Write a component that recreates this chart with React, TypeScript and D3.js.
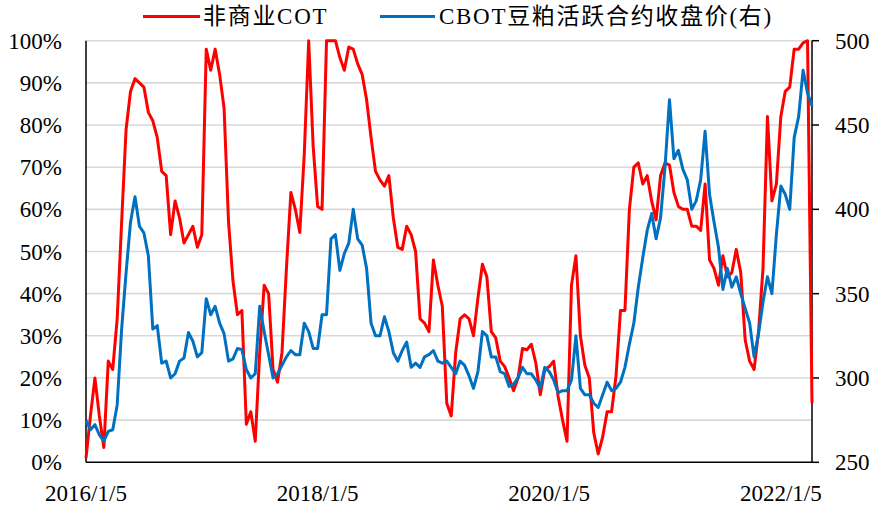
import React from "react";
import * as d3 from "d3";

// bi-weekly points, 2016/1/5 .. 2022/3
const xLabels = ["2016/1/5", "2018/1/5", "2020/1/5", "2022/1/5"];
const xLabelIdx = [0, 52, 104, 156];
const leftTicks = [0, 10, 20, 30, 40, 50, 60, 70, 80, 90, 100];
const rightTicks = [250, 300, 350, 400, 450, 500];

// 非商业COT (%)
const cotPct = [
  1, 11, 20, 11, 3.5, 24, 22, 34, 57, 79, 88, 91, 90, 89, 83, 81, 77, 69, 68, 54,
  62, 58, 52, 54, 56, 51, 54, 98, 93, 98, 92, 84, 57, 43, 35, 36, 9, 12, 5, 26,
  42, 40, 22, 19, 26, 46, 64, 60, 54.5, 73, 100, 75, 60.7, 60, 100, 100, 100, 96, 93, 98.5,
  98, 94.5, 92, 86, 77, 69, 67, 65.5, 68, 58, 51, 50.5, 56, 54, 50, 34, 33, 31, 48, 42,
  37, 14, 11, 26, 34, 35, 34, 30, 39, 47, 44, 31, 29.5, 24, 22.7, 20, 17, 20, 27, 26.7,
  28, 23.5, 16, 22, 22.7, 24, 15.6, 10, 5, 42, 49, 30, 23, 20, 7, 2, 6, 12, 12, 20.5,
  36, 36, 60, 70, 71, 66, 68, 62, 57.5, 68, 71, 70.5, 64, 60.7, 60, 60, 56, 56, 55, 66,
  48, 46, 42, 49, 44, 45, 50.5, 45, 29, 24, 22, 31, 46, 82, 62, 66, 82, 88, 89, 98,
  98, 99.5, 100, 14,
];

// CBOT豆粕活跃合约收盘价 (右轴)
const mealPrice = [
  275, 269.3, 272.3, 266.3, 262.5, 268.3, 269.3, 284, 329, 362.5, 392.5, 407.5, 390, 386, 372.5, 329, 331, 308.8, 310, 300,
  302.5, 310, 311.8, 327, 321.8, 312.5, 315, 347, 337.5, 342.5, 332.5, 326.3, 310, 311.3, 317.5, 316.8, 305, 300, 302.5, 342.5,
  327.5, 313.8, 300, 302.5, 307.5, 312.5, 316.3, 313.8, 313.8, 332.5, 327.5, 317.5, 317.5, 337.5, 337.5, 382.5, 385, 363.8, 373.8, 380,
  400, 382.5, 378.8, 365, 332.5, 325, 325, 336.3, 327.5, 315, 310, 316.3, 321.3, 306.3, 308.8, 306.3, 312.5, 313.8, 316.3, 310,
  308.8, 310, 306.3, 302.5, 310, 307.5, 301.3, 293.8, 303.8, 327.5, 325, 312.5, 312.5, 303.8, 302.5, 295, 296.3, 300, 306.3, 302.5,
  302.5, 298.8, 293.8, 306.3, 303.8, 298.8, 291.3, 292.5, 292.5, 298.8, 325, 293.8, 290, 290, 285, 282.5, 290, 297.5, 292.5, 293.8,
  297.5, 306.3, 320, 332.5, 353.8, 371.3, 387.5, 397.5, 382.5, 395, 425, 465, 430, 435, 423.8, 417.5, 400, 405, 417.5, 446.3,
  408.8, 392.5, 377.5, 352.5, 365, 353.8, 360, 350, 341.3, 332.5, 312.5, 326.3, 345, 360, 350, 385, 413.8, 408.8, 400, 442.5,
  455, 482.5, 468.8, 461.3,
];

const W = 873;
const H = 506;
const left = 86;
const right = 812;
const top = 40.7;
const bottom = 462.3;
const font = "'Liberation Serif', 'Times New Roman', 'Noto Sans CJK SC', serif";

export default function App() {
  const x = d3.scaleLinear().domain([0, cotPct.length - 1]).range([left, right]);
  const yL = d3.scaleLinear().domain([0, 100]).range([bottom, top]);
  const yR = d3.scaleLinear().domain([250, 500]).range([bottom, top]);

  const redLine = d3.line<number>().x((d, i) => x(i)).y((d) => yL(d));
  const blueLine = d3.line<number>().x((d, i) => x(i)).y((d) => yR(d));

  return (
    <svg width={W} height={H} style={{ position: "absolute", left: 0, top: 0, background: "#fff" }} fontFamily={font}>
      {/* grid */}
      {leftTicks.filter((t) => t > 0).map((t) => (
        <line key={t} x1={left} x2={right} y1={yL(t)} y2={yL(t)} stroke="#d9d9d9" strokeWidth={1.6} />
      ))}

      {/* axes */}
      <line x1={left} x2={left} y1={top} y2={bottom} stroke="#000" strokeWidth={1.5} />
      <line x1={left} x2={right} y1={bottom} y2={bottom} stroke="#000" strokeWidth={1.5} />
      <line x1={right} x2={right} y1={top} y2={bottom} stroke="#000" strokeWidth={1.5} />
      {rightTicks.map((t) => (
        <line key={t} x1={right} x2={right + 7} y1={yR(t)} y2={yR(t)} stroke="#000" strokeWidth={1.5} />
      ))}

      {leftTicks.map((t) => (
        <text key={t} x={62} y={yL(t)} dy="0.35em" textAnchor="end" fontSize={23} fill="#000">
          {t + "%"}
        </text>
      ))}
      {rightTicks.map((t) => (
        <text key={t} x={835} y={yR(t)} dy="0.35em" textAnchor="start" fontSize={23} fill="#000">
          {t}
        </text>
      ))}
      {xLabels.map((l, i) => (
        <text key={l} x={x(xLabelIdx[i])} y={501} textAnchor="middle" fontSize={23} fill="#000">
          {l}
        </text>
      ))}

      {/* series */}
      <path d={redLine(cotPct) || ""} fill="none" stroke="#ff0000" strokeWidth={3} strokeLinejoin="round" />
      <path d={blueLine(mealPrice) || ""} fill="none" stroke="#0070c0" strokeWidth={3} strokeLinejoin="round" />

      {/* legend */}
      <line x1={143} x2={200} y1={16.5} y2={16.5} stroke="#ff0000" strokeWidth={3} />
      <text x={203} y={24} fontSize={23} letterSpacing={1.7} fill="#000">非商业COT</text>
      <line x1={380} x2={435} y1={16.5} y2={16.5} stroke="#0070c0" strokeWidth={3} />
      <text x={439} y={24} fontSize={23} letterSpacing={1.7} fill="#000">CBOT豆粕活跃合约收盘价(右)</text>
    </svg>
  );
}
